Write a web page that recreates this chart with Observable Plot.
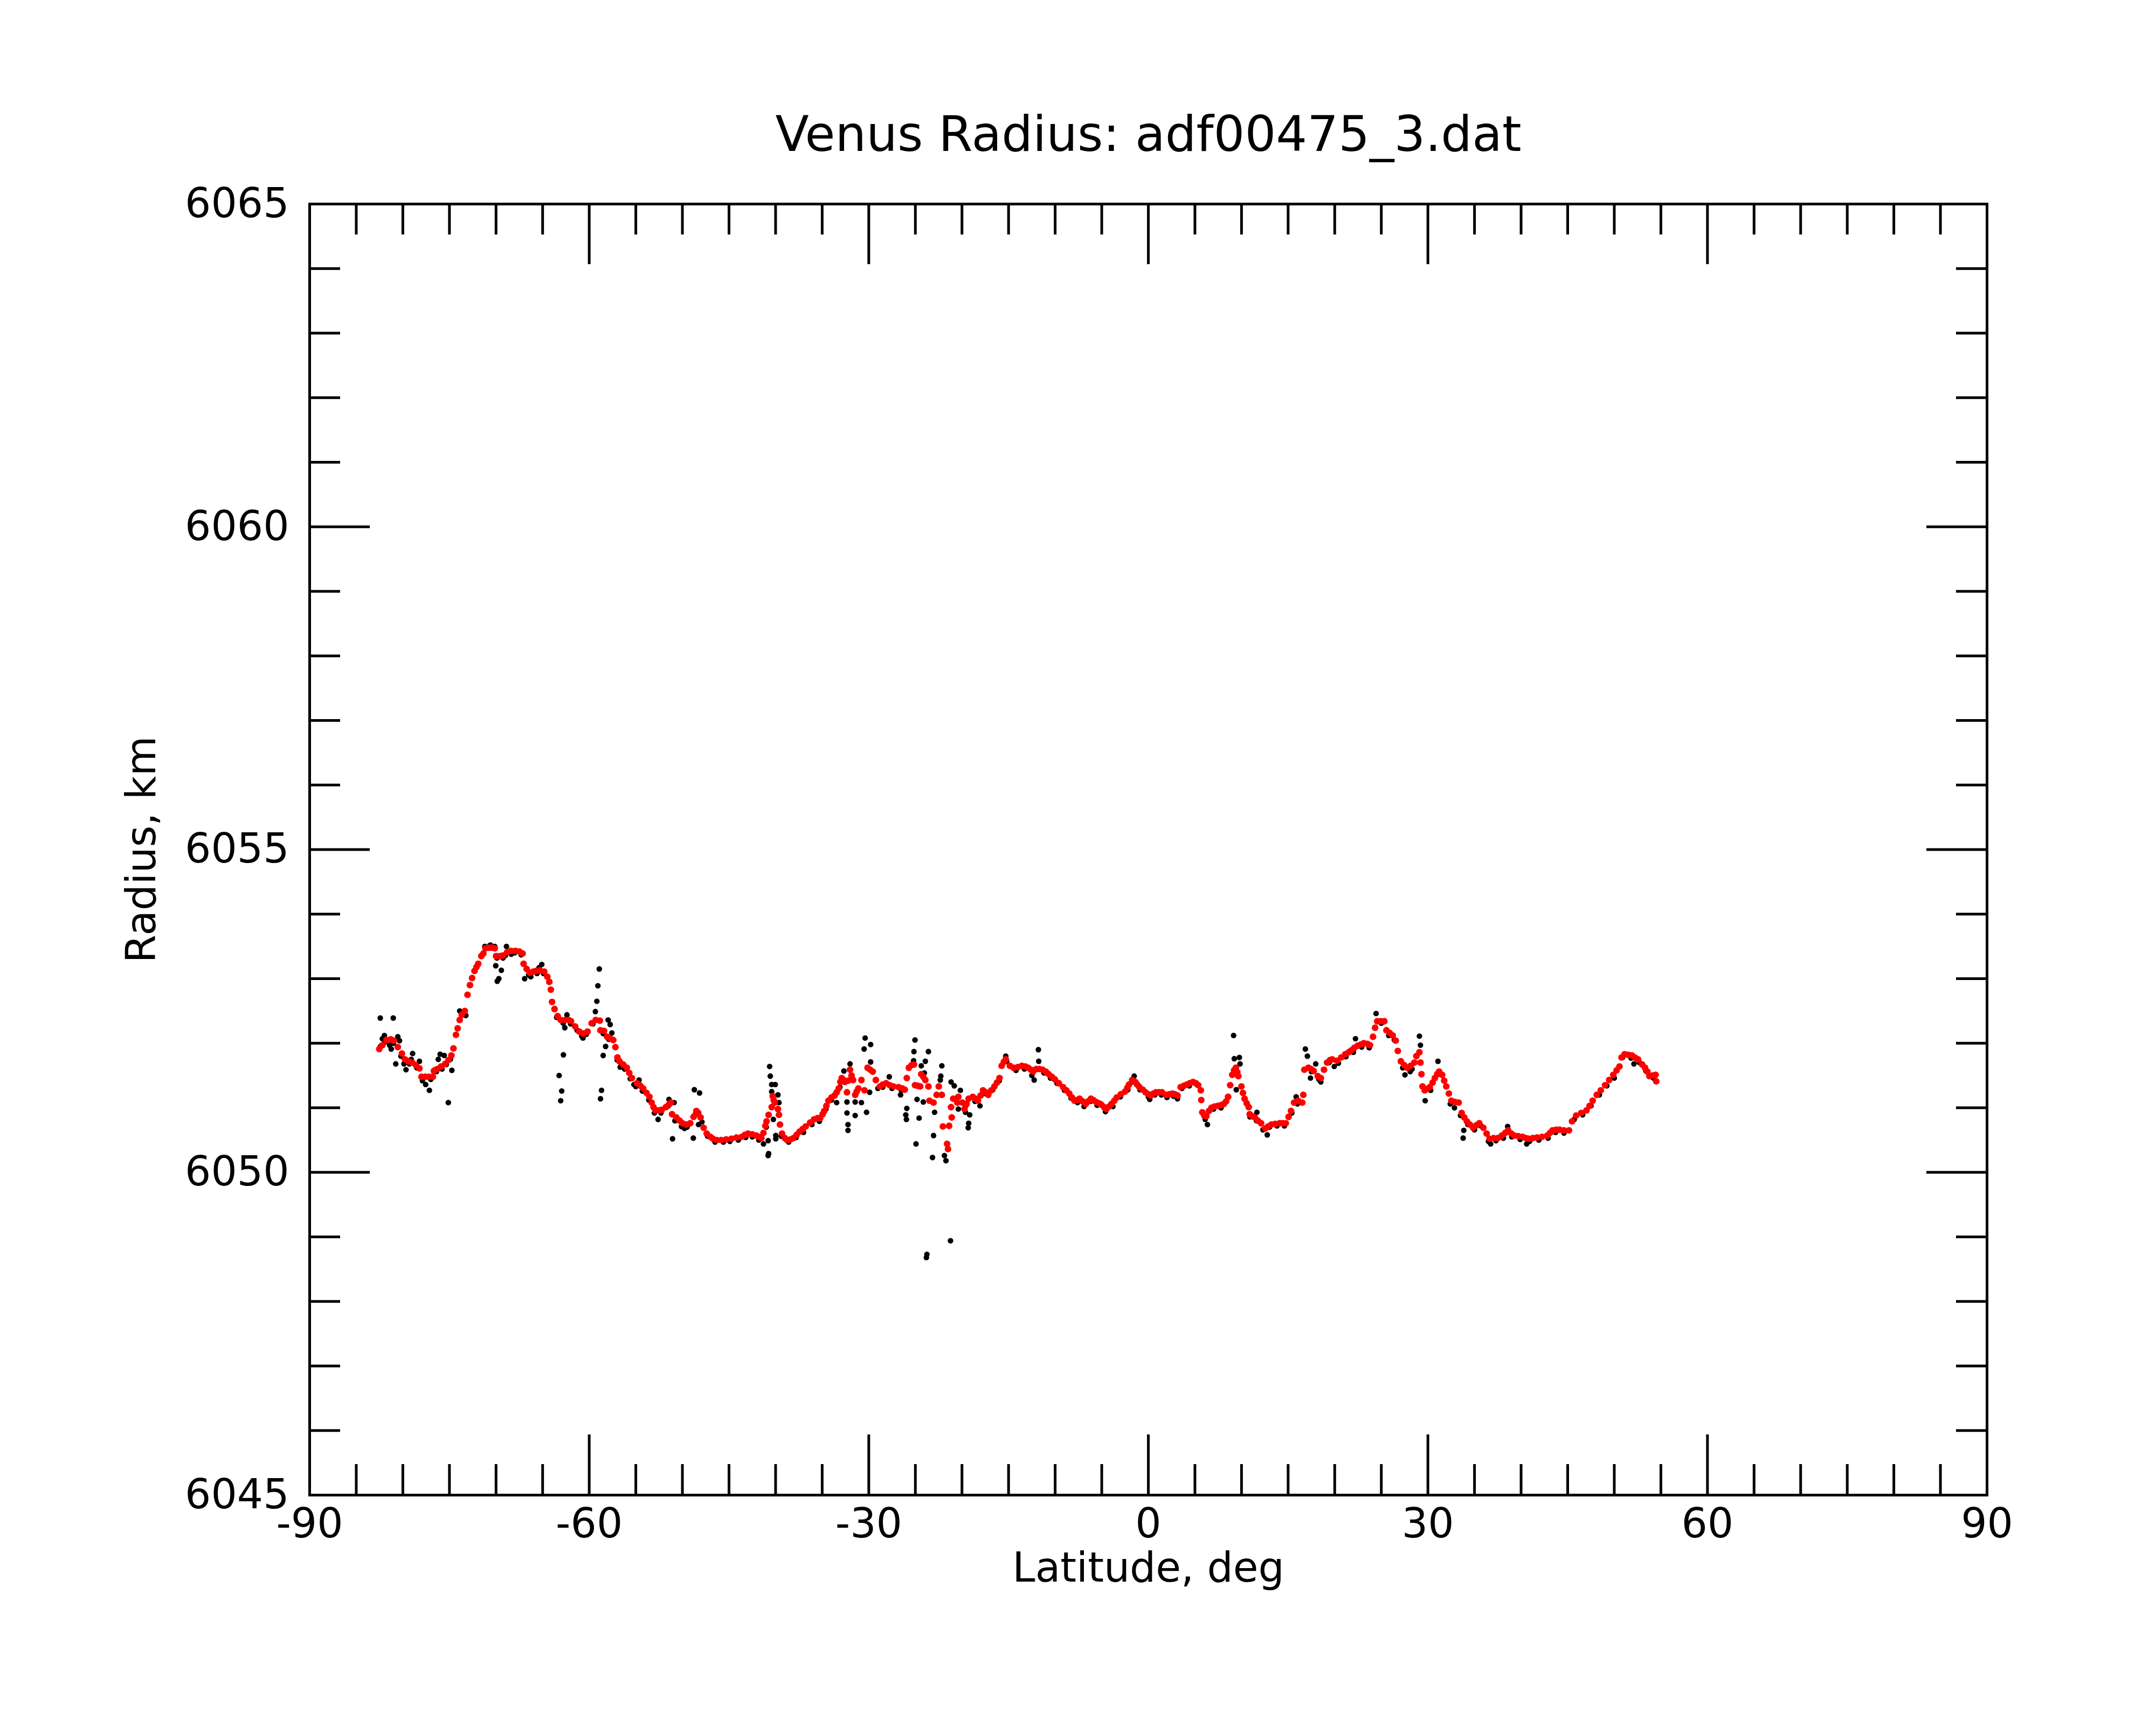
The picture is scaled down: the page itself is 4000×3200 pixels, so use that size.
<!DOCTYPE html>
<html>
<head>
<meta charset="utf-8">
<script src="https://cdn.jsdelivr.net/npm/d3@7"></script>
<script src="https://cdn.jsdelivr.net/npm/@observablehq/plot@0.6"></script>
<style>
  html, body { margin: 0; padding: 0; background: #ffffff; }
  #chart svg { display: block; }
</style>
</head>
<body>
<div id="chart"></div>
<script>
// ---------------- data ----------------
const titleText = "Venus Radius: adf00475_3.dat";
const xLabelText = "Latitude, deg";
const yLabelText = "Radius, km";

const xMajorTicks = [-90, -60, -30, 0, 30, 60, 90];
const xTickLabels = ["-90", "-60", "-30", "0", "30", "60", "90"];
const xMinorTicks = [-85, -80, -75, -70, -65, -55, -50, -45, -40, -35, -25, -20, -15, -10, -5,
                     5, 10, 15, 20, 25, 35, 40, 45, 50, 55, 65, 70, 75, 80, 85];
const yMajorTicks = [6045, 6050, 6055, 6060, 6065];
const yTickLabels = ["6045", "6050", "6055", "6060", "6065"];
const yMinorTicks = [6046, 6047, 6048, 6049, 6051, 6052, 6053, 6054, 6056, 6057, 6058, 6059,
                     6061, 6062, 6063, 6064];

// smoothed radius (red)
const redLat = [
 -82.53,-82.2,-81.76,-81.3,-80.98,-80.54,-80.1,-79.77,-79.4,-78.99,-78.6,-78.22,-78.0,-77.6,-77.2,-76.78,
 -76.67,-76.3,-75.9,-75.45,-75.1,-74.79,-74.57,-74.3,-74.12,-73.9,-73.68,-73.35,-73.06,-72.8,-72.57,-72.31,
 -72.1,-71.91,-71.58,-71.36,-71.13,-70.8,-70.45,-70.14,-70.0,-69.6,-69.25,-68.81,-68.4,-67.93,-67.5,-67.15,
 -67.04,-66.71,-66.38,-66.0,-65.71,-65.3,-64.83,-64.5,-64.28,-64.12,-63.99,-63.72,-63.39,-63.06,-62.6,-62.2,
 -61.95,-61.51,-61.07,-60.62,-60.18,-59.74,-59.3,-58.86,-58.8,-58.41,-58.08,-57.7,-57.42,-57.19,-56.97,-56.75,
 -56.35,-55.97,-55.7,-55.42,-54.87,-54.5,-54.21,-53.85,-53.54,-53.3,-53.1,-52.88,-52.5,-52.21,-51.77,-51.45,
 -51.22,-51.11,-50.66,-50.3,-50.0,-49.6,-49.16,-48.8,-48.5,-48.3,-48.05,-47.72,-47.39,-47.0,-46.73,-46.3,
 -45.84,-45.3,-44.73,-44.2,-43.63,-43.3,-42.96,-42.5,-42.08,-41.8,-41.53,-41.3,-41.1,-40.97,-40.75,-40.42,
 -40.31,-40.2,-40.09,-39.75,-39.64,-39.53,-39.31,-39.0,-38.76,-38.4,-38.09,-37.75,-37.43,-37.1,-36.77,-36.3,
 -35.88,-35.5,-35.22,-34.95,-34.78,-34.55,-34.33,-34.0,-33.67,-33.45,-33.23,-33.05,-32.9,-32.72,-32.56,-32.34,
 -32.2,-32.01,-31.85,-31.68,-31.46,-31.3,-31.12,-30.79,-30.46,-30.13,-29.85,-29.58,-29.24,-28.8,-28.5,-28.14,
 -27.75,-27.36,-26.81,-26.4,-26.14,-25.92,-25.7,-25.4,-25.15,-25.04,-24.75,-24.48,-24.37,-24.15,-23.93,-23.6,
 -23.49,-23.05,-22.72,-22.49,-22.16,-22.05,-21.6,-21.5,-21.38,-21.17,-21.1,-20.94,-20.5,-20.39,-19.95,-19.73,
 -19.5,-19.28,-18.84,-18.55,-18.29,-18.0,-17.74,-17.45,-17.18,-16.85,-16.52,-16.25,-15.97,-15.74,-15.5,-15.3,
 -14.86,-14.46,-14.0,-13.57,-13.2,-12.91,-12.6,-12.36,-12.03,-11.7,-11.36,-11.0,-10.7,-10.35,-10.03,-9.6,
 -9.15,-8.8,-8.48,-8.2,-7.93,-7.65,-7.38,-7.05,-6.71,-6.45,-6.16,-5.9,-5.61,-5.3,-5.05,-4.75,
 -4.5,-4.2,-3.95,-3.65,-3.39,-2.95,-2.51,-2.25,-2.07,-1.74,-1.4,-1.2,-0.96,-0.6,-0.3,0.0,
 0.26,0.55,0.81,1.15,1.47,1.92,2.25,2.58,2.85,3.13,3.47,3.8,4.13,4.45,4.79,5.1,
 5.35,5.63,5.68,5.79,6.0,6.23,6.5,6.78,7.1,7.45,7.8,8.11,8.35,8.56,8.78,9.0,
 9.2,9.4,9.55,9.66,9.99,10.15,10.33,10.55,10.77,10.88,11.15,11.43,11.75,12.1,12.54,12.85,
 13.2,13.6,14.09,14.4,14.75,15.05,15.31,15.64,16.08,16.52,16.63,16.74,17.18,17.45,17.74,18.18,
 18.51,18.85,19.18,19.5,19.73,20.24,20.7,21.13,21.5,21.79,22.1,22.45,22.8,23.12,23.5,23.78,
 24.11,24.33,24.56,24.95,25.33,25.55,25.9,26.22,26.55,26.77,27.1,27.45,27.77,28.15,28.54,28.76,
 29.09,29.2,29.31,29.42,29.65,29.9,30.2,30.5,30.75,31.0,31.2,31.53,31.75,31.97,32.25,32.52,
 32.9,33.3,33.63,33.9,34.18,34.5,34.85,35.2,35.51,35.95,36.3,36.62,37.05,37.5,37.94,38.3,
 38.61,38.95,39.27,39.7,40.16,40.5,40.82,41.25,41.71,42.25,42.81,43.1,43.37,43.75,44.14,44.6,
 45.14,45.47,45.91,46.45,47.02,47.35,47.68,48.12,48.55,49.01,49.45,49.89,50.25,50.56,50.78,51.11,
 51.5,51.89,52.2,52.55,52.99,53.3,53.55,53.77,54.1,54.43,54.5
];
const redRadius = [
 6051.91,6051.97,6052.05,6052.06,6052.04,6051.94,6051.84,6051.75,6051.72,6051.70,6051.66,6051.61,6051.48,6051.48,6051.48,6051.48,
 6051.57,6051.60,6051.64,6051.68,6051.74,6051.81,6051.92,6052.13,6052.23,6052.36,6052.44,6052.50,6052.75,6052.90,6053.01,6053.12,
 6053.18,6053.23,6053.35,6053.39,6053.47,6053.48,6053.48,6053.47,6053.35,6053.35,6053.36,6053.41,6053.43,6053.43,6053.42,6053.39,
 6053.23,6053.15,6053.09,6053.11,6053.12,6053.13,6053.11,6053.03,6052.95,6052.83,6052.64,6052.53,6052.42,6052.36,6052.36,6052.36,
 6052.34,6052.26,6052.18,6052.15,6052.18,6052.31,6052.36,6052.35,6052.20,6052.19,6052.10,6052.07,6052.05,6051.94,6051.78,6051.72,
 6051.67,6051.62,6051.54,6051.46,6051.38,6051.34,6051.30,6051.23,6051.17,6051.08,6051.01,6050.96,6050.96,6050.97,6051.01,6051.05,
 6051.08,6050.90,6050.85,6050.80,6050.76,6050.74,6050.76,6050.86,6050.95,6050.92,6050.85,6050.69,6050.60,6050.55,6050.52,6050.50,
 6050.50,6050.51,6050.52,6050.54,6050.55,6050.58,6050.60,6050.59,6050.57,6050.55,6050.53,6050.61,6050.72,6050.79,6050.89,6051.01,
 6051.18,6051.12,6051.08,6050.98,6050.89,6050.74,6050.60,6050.53,6050.50,6050.51,6050.53,6050.58,6050.63,6050.67,6050.71,6050.77,
 6050.82,6050.84,6050.84,6050.90,6050.95,6051.03,6051.11,6051.16,6051.19,6051.24,6051.30,6051.40,6051.46,6051.43,6051.40,6051.24,
 6051.42,6051.59,6051.50,6051.43,6051.20,6051.25,6051.30,6051.43,6051.27,6051.62,6051.59,6051.56,6051.43,6051.33,6051.36,6051.38,
 6051.35,6051.33,6051.32,6051.30,6051.28,6051.46,6051.62,6051.66,6051.67,6051.35,6051.34,6051.33,6051.52,6051.48,6051.43,6051.33,
 6051.11,6051.08,6051.20,6051.33,6051.20,6050.71,6050.44,6050.36,6050.72,6051.01,6050.85,6051.14,6051.08,6051.17,6051.08,6050.98,
 6051.06,6051.14,6051.17,6051.14,6051.11,6051.19,6051.27,6051.24,6051.20,6051.27,6051.33,6051.39,6051.46,6051.65,6051.71,6051.75,
 6051.65,6051.62,6051.63,6051.65,6051.64,6051.62,6051.59,6051.56,6051.60,6051.60,6051.59,6051.56,6051.52,6051.48,6051.44,6051.38,
 6051.32,6051.27,6051.22,6051.16,6051.11,6051.12,6051.14,6051.10,6051.06,6051.10,6051.14,6051.12,6051.09,6051.07,6051.05,6051.01,
 6050.98,6051.02,6051.06,6051.11,6051.16,6051.21,6051.25,6051.31,6051.36,6051.43,6051.40,6051.36,6051.32,6051.28,6051.24,6051.21,
 6051.19,6051.22,6051.24,6051.24,6051.24,6051.20,6051.21,6051.22,6051.21,6051.19,6051.32,6051.34,6051.36,6051.38,6051.40,6051.38,
 6051.35,6051.27,6051.12,6050.93,6050.88,6050.87,6050.95,6051.00,6051.02,6051.03,6051.04,6051.06,6051.10,6051.17,6051.35,6051.51,
 6051.58,6051.62,6051.55,6051.49,6051.33,6051.23,6051.14,6051.07,6051.01,6050.90,6050.87,6050.85,6050.80,6050.76,6050.68,6050.71,
 6050.74,6050.75,6050.76,6050.76,6050.76,6050.86,6050.95,6051.08,6051.11,6051.08,6051.20,6051.59,6051.62,6051.60,6051.57,6051.49,
 6051.46,6051.59,6051.70,6051.74,6051.75,6051.73,6051.78,6051.83,6051.86,6051.89,6051.93,6051.96,6051.98,6052.00,6051.99,6051.97,
 6052.10,6052.24,6052.34,6052.34,6052.34,6052.20,6052.16,6052.12,6052.04,6051.88,6051.72,6051.66,6051.62,6051.65,6051.70,6051.80,
 6051.86,6051.70,6051.52,6051.33,6051.27,6051.29,6051.32,6051.39,6051.46,6051.52,6051.56,6051.51,6051.42,6051.33,6051.22,6051.11,
 6051.09,6051.08,6050.92,6050.85,6050.79,6050.74,6050.69,6050.73,6050.76,6050.69,6050.60,6050.52,6050.53,6050.53,6050.57,6050.61,
 6050.65,6050.60,6050.57,6050.56,6050.55,6050.53,6050.52,6050.53,6050.54,6050.55,6050.57,6050.61,6050.65,6050.66,6050.66,6050.65,
 6050.65,6050.79,6050.88,6050.92,6050.96,6051.03,6051.11,6051.20,6051.27,6051.35,6051.43,6051.51,6051.58,6051.64,6051.78,6051.83,
 6051.82,6051.81,6051.78,6051.75,6051.67,6051.62,6051.56,6051.49,6051.50,6051.51,6051.41
];

// raw radius measurements (black)
const blackLat = [
 -82.4,-81.9,-81.0,-80.2,-79.3,-78.5,-77.9,-77.0,-76.4,-75.8,-74.9,-73.5,-71.2,-70.6,-69.9,-69.0,
 -68.0,-67.3,-66.5,-65.6,-64.9,-63.5,-62.8,-62.0,-61.3,-60.8,-60.3,-59.6,-58.5,-57.9,-57.0,-56.2,
 -55.6,-55.0,-54.3,-53.6,-53.0,-52.3,-51.5,-50.8,-50.1,-49.5,-48.6,-47.9,-47.3,-46.5,-45.6,-44.9,
 -44.0,-43.2,-42.5,-41.8,-41.0,-39.4,-38.6,-37.8,-37.0,-36.1,-35.3,-34.6,-34.0,-33.1,-28.5,-27.5,
 -26.5,-19.6,-18.6,-17.6,-16.7,-16.0,-15.2,-14.2,-13.3,-12.5,-11.2,-10.5,-9.8,-9.0,-8.3,-7.6,
 -6.9,-6.2,-5.5,-4.6,-3.8,-3.0,-2.2,-1.6,-0.9,0.0,0.7,1.4,2.0,2.7,3.6,4.4,
 5.2,6.1,7.0,7.8,10.9,11.6,12.3,13.0,13.8,14.6,15.4,16.0,17.5,18.3,19.4,20.4,
 21.2,22.0,22.9,23.7,25.0,25.8,26.4,27.3,28.3,30.3,31.3,32.4,33.5,34.3,35.0,35.7,
 36.5,37.3,38.1,39.0,39.9,40.9,41.9,42.9,43.7,44.6,45.7,46.6,47.5,48.4,49.2,50.0,
 50.9,51.8,52.7,53.4,54.2,
 // scattered points
 -82.42,-81.03,-81.98,-82.2,-81.43,-81.25,-80.54,-80.36,-80.76,-79.88,-79.66,-78.95,-79.1,-78.22,-77.55,-77.15,
 -76.0,-76.2,-75.56,-75.34,-76.56,-75.12,-74.74,-73.9,-73.24,-70.7,-70.14,-70.03,-69.43,-69.7,-69.87,-68.88,
 -69.25,-68.37,-66.93,-66.27,-65.09,-65.38,-62.62,-62.39,-62.77,-63.23,-62.95,-63.06,-60.67,-58.92,-59.07,-59.18,
 -59.34,-57.97,-57.75,-57.57,-58.24,-58.5,-58.68,-58.79,-56.68,-55.2,-54.65,-52.61,-51.44,-50.89,-51.06,-49.78,
 -48.72,-48.16,-48.83,-48.27,-40.64,-40.57,-40.42,-40.04,-40.42,-39.75,-39.64,-40.24,-40.8,-41.3,-40.75,-40.8,
 -39.98,-39.98,-33.45,-32.34,-32.34,-32.23,-32.23,-31.46,-31.46,-30.79,-30.24,-30.39,-29.8,-30.5,-29.8,-32.01,
 -32.67,-29.91,-29.02,-27.8,-26.59,-25.04,-25.15,-25.19,-23.6,-23.93,-24.37,-24.04,-22.16,-22.27,-22.33,-21.17,
 -20.83,-20.17,-25.92,-26.03,-25.96,-24.6,-24.82,-24.15,-22.94,-24.93,-23.05,-23.16,-21.72,-21.88,-20.39,-19.62,
 -19.17,-19.28,-19.33,-21.23,-23.76,-23.82,-18.07,-15.3,-11.8,-11.76,-12.25,-1.52,0.15,3.13,9.15,9.22,
 9.77,9.84,9.44,6.34,11.65,12.76,16.85,17.07,17.4,17.96,18.51,19.95,15.86,22.23,24.44,29.09,
 29.2,27.54,28.1,29.71,31.08,32.85,33.85,33.78,36.73,38.56,40.6,52.11
];
const blackRadius = [
 6051.95,6052.02,6052.00,6051.80,6051.68,6051.62,6051.42,6051.44,6051.56,6051.60,6051.75,6052.45,6053.50,6053.52,6053.32,6053.36,
 6053.40,6053.37,6053.06,6053.08,6053.08,6052.40,6052.31,6052.30,6052.20,6052.11,6052.14,6052.30,6052.15,6052.06,6051.74,6051.60,
 6051.45,6051.33,6051.26,6051.12,6050.92,6050.92,6051.03,6050.80,6050.71,6050.70,6050.90,6050.78,6050.56,6050.47,6050.47,6050.48,
 6050.50,6050.54,6050.55,6050.50,6050.70,6050.56,6050.47,6050.54,6050.62,6050.74,6050.79,6050.98,6051.12,6051.32,6051.32,6051.30,
 6051.27,6051.03,6051.10,6051.22,6051.28,6051.42,6051.72,6051.58,6051.60,6051.50,6051.54,6051.46,6051.38,6051.27,6051.15,6051.08,
 6051.02,6051.10,6051.04,6050.94,6051.02,6051.17,6051.28,6051.40,6051.28,6051.17,6051.20,6051.20,6051.16,6051.18,6051.30,6051.34,
 6051.36,6050.82,6050.98,6051.00,6050.86,6050.80,6050.66,6050.70,6050.72,6050.72,6050.92,6051.06,6051.56,6051.44,6051.70,6051.69,
 6051.79,6051.86,6051.94,6051.93,6052.31,6052.12,6052.05,6051.62,6051.60,6051.27,6051.52,6051.06,6050.88,6050.74,6050.66,6050.72,
 6050.48,6050.49,6050.53,6050.55,6050.51,6050.48,6050.50,6050.53,6050.62,6050.61,6050.82,6050.89,6051.03,6051.20,6051.34,6051.46,
 6051.78,6051.77,6051.70,6051.57,6051.46,
 // scattered points
 6052.39,6052.39,6052.12,6052.07,6051.97,6051.91,6052.10,6052.04,6051.68,6051.68,6051.59,6051.84,6051.75,6051.72,6051.36,6051.27,
 6051.83,6051.75,6051.81,6051.67,6051.59,6051.08,6051.58,6052.50,6052.43,6053.51,6053.50,6053.20,6053.13,6053.00,6052.96,6053.50,
 6053.32,6053.38,6053.00,6053.03,6053.22,6053.17,6052.24,6052.44,6051.82,6051.50,6051.26,6051.11,6052.08,6053.15,6052.89,6052.65,
 6052.49,6052.36,6052.29,6052.16,6051.95,6051.81,6051.27,6051.14,6051.63,6051.36,6051.43,6050.82,6051.13,6051.08,6050.52,6050.68,
 6051.28,6051.23,6050.53,6050.74,6051.64,6051.49,6051.36,6051.36,6051.25,6051.20,6051.08,6050.82,6050.49,6050.44,6050.29,6050.26,
 6050.52,6050.57,6051.08,6051.09,6050.92,6050.74,6050.65,6051.09,6050.88,6051.08,6050.93,6052.08,6051.98,6051.91,6051.71,6051.68,
 6051.57,6051.24,6051.30,6051.48,6051.20,6052.05,6051.87,6051.73,6051.87,6051.72,6051.65,6051.54,6051.65,6051.49,6051.43,6051.40,
 6051.34,6051.27,6050.99,6050.89,6050.82,6050.84,6051.13,6051.09,6050.93,6050.44,6050.57,6050.23,6050.18,6050.26,6050.98,6050.93,
 6050.89,6050.76,6050.69,6048.94,6048.73,6048.68,6051.03,6051.80,6051.90,6051.72,6051.43,6051.49,6051.13,6051.14,6052.12,6051.76,
 6051.78,6051.68,6051.28,6050.74,6050.93,6050.58,6051.91,6051.80,6051.46,6051.68,6051.40,6051.64,6051.17,6052.07,6052.46,6052.11,
 6051.97,6051.51,6051.56,6051.11,6051.72,6051.00,6050.65,6050.53,6050.44,6050.71,6050.44,6051.68
];

// --------------- build tables ---------------
const redPts = redLat.map((d, i) => ({lat: d, radius: redRadius[i]}));
const blackPts = blackLat.map((d, i) => ({lat: d, radius: blackRadius[i]}));
const xLabelRows = xMajorTicks.map((d, i) => ({v: d, label: xTickLabels[i]}));
const yLabelRows = yMajorTicks.map((d, i) => ({v: d, label: yTickLabels[i]}));

// --------------- layout ---------------
const W = 4000, H = 3200;
const mL = 574, mR = 314, mT = 378, mB = 427;
const innerW = W - mL - mR;   // 3112
const innerH = H - mT - mB;   // 2395
const majorLen = 112, minorLen = 57, lw = 5;
const font = "DejaVu Sans";

const chart = Plot.plot({
  width: W,
  height: H,
  marginLeft: mL,
  marginRight: mR,
  marginTop: mT,
  marginBottom: mB,
  x: {domain: [-90, 90], axis: null},
  y: {domain: [6045, 6065], axis: null},
  style: {fontFamily: font, background: "#ffffff", color: "#000000"},
  marks: [
    Plot.dot(blackPts, {x: "lat", y: "radius", r: 5.2, fill: "#000000", stroke: "none"}),
    Plot.dot(redPts, {x: "lat", y: "radius", r: 6.2, fill: "#ff0000", stroke: "none"}),
    Plot.frame({stroke: "#000000", strokeWidth: lw}),
    // x ticks bottom + top
    Plot.ruleX(xMajorTicks, {x: d => d, insetTop: innerH - majorLen, stroke: "#000000", strokeWidth: lw}),
    Plot.ruleX(xMajorTicks, {x: d => d, insetBottom: innerH - majorLen, stroke: "#000000", strokeWidth: lw}),
    Plot.ruleX(xMinorTicks, {x: d => d, insetTop: innerH - minorLen, stroke: "#000000", strokeWidth: lw}),
    Plot.ruleX(xMinorTicks, {x: d => d, insetBottom: innerH - minorLen, stroke: "#000000", strokeWidth: lw}),
    // y ticks left + right
    Plot.ruleY(yMajorTicks, {y: d => d, insetRight: innerW - majorLen, stroke: "#000000", strokeWidth: lw}),
    Plot.ruleY(yMajorTicks, {y: d => d, insetLeft: innerW - majorLen, stroke: "#000000", strokeWidth: lw}),
    Plot.ruleY(yMinorTicks, {y: d => d, insetRight: innerW - minorLen, stroke: "#000000", strokeWidth: lw}),
    Plot.ruleY(yMinorTicks, {y: d => d, insetLeft: innerW - minorLen, stroke: "#000000", strokeWidth: lw}),
    // tick labels
    Plot.text(xLabelRows, {x: "v", text: "label", frameAnchor: "bottom", dy: 25, lineAnchor: "top",
      textAnchor: "middle", fontSize: 76, fill: "#000000", fontFamily: font}),
    Plot.text(yLabelRows, {y: "v", text: "label", frameAnchor: "left", dx: -38, textAnchor: "end",
      lineAnchor: "middle", fontSize: 76, fill: "#000000", fontFamily: font}),
    // axis titles
    Plot.text([xLabelText], {text: d => d, frameAnchor: "bottom", dy: 107, lineAnchor: "top",
      textAnchor: "middle", fontSize: 76, fill: "#000000", fontFamily: font}),
    Plot.text([yLabelText], {text: d => d, frameAnchor: "left", dx: -311, rotate: -90,
      textAnchor: "middle", lineAnchor: "middle", fontSize: 76, fill: "#000000", fontFamily: font}),
    // main title
    Plot.text([titleText], {text: d => d, frameAnchor: "top", dy: -163, lineAnchor: "top",
      textAnchor: "middle", fontSize: 91, fill: "#000000", fontFamily: font})
  ]
});
document.getElementById("chart").appendChild(chart);
</script>
</body>
</html>
